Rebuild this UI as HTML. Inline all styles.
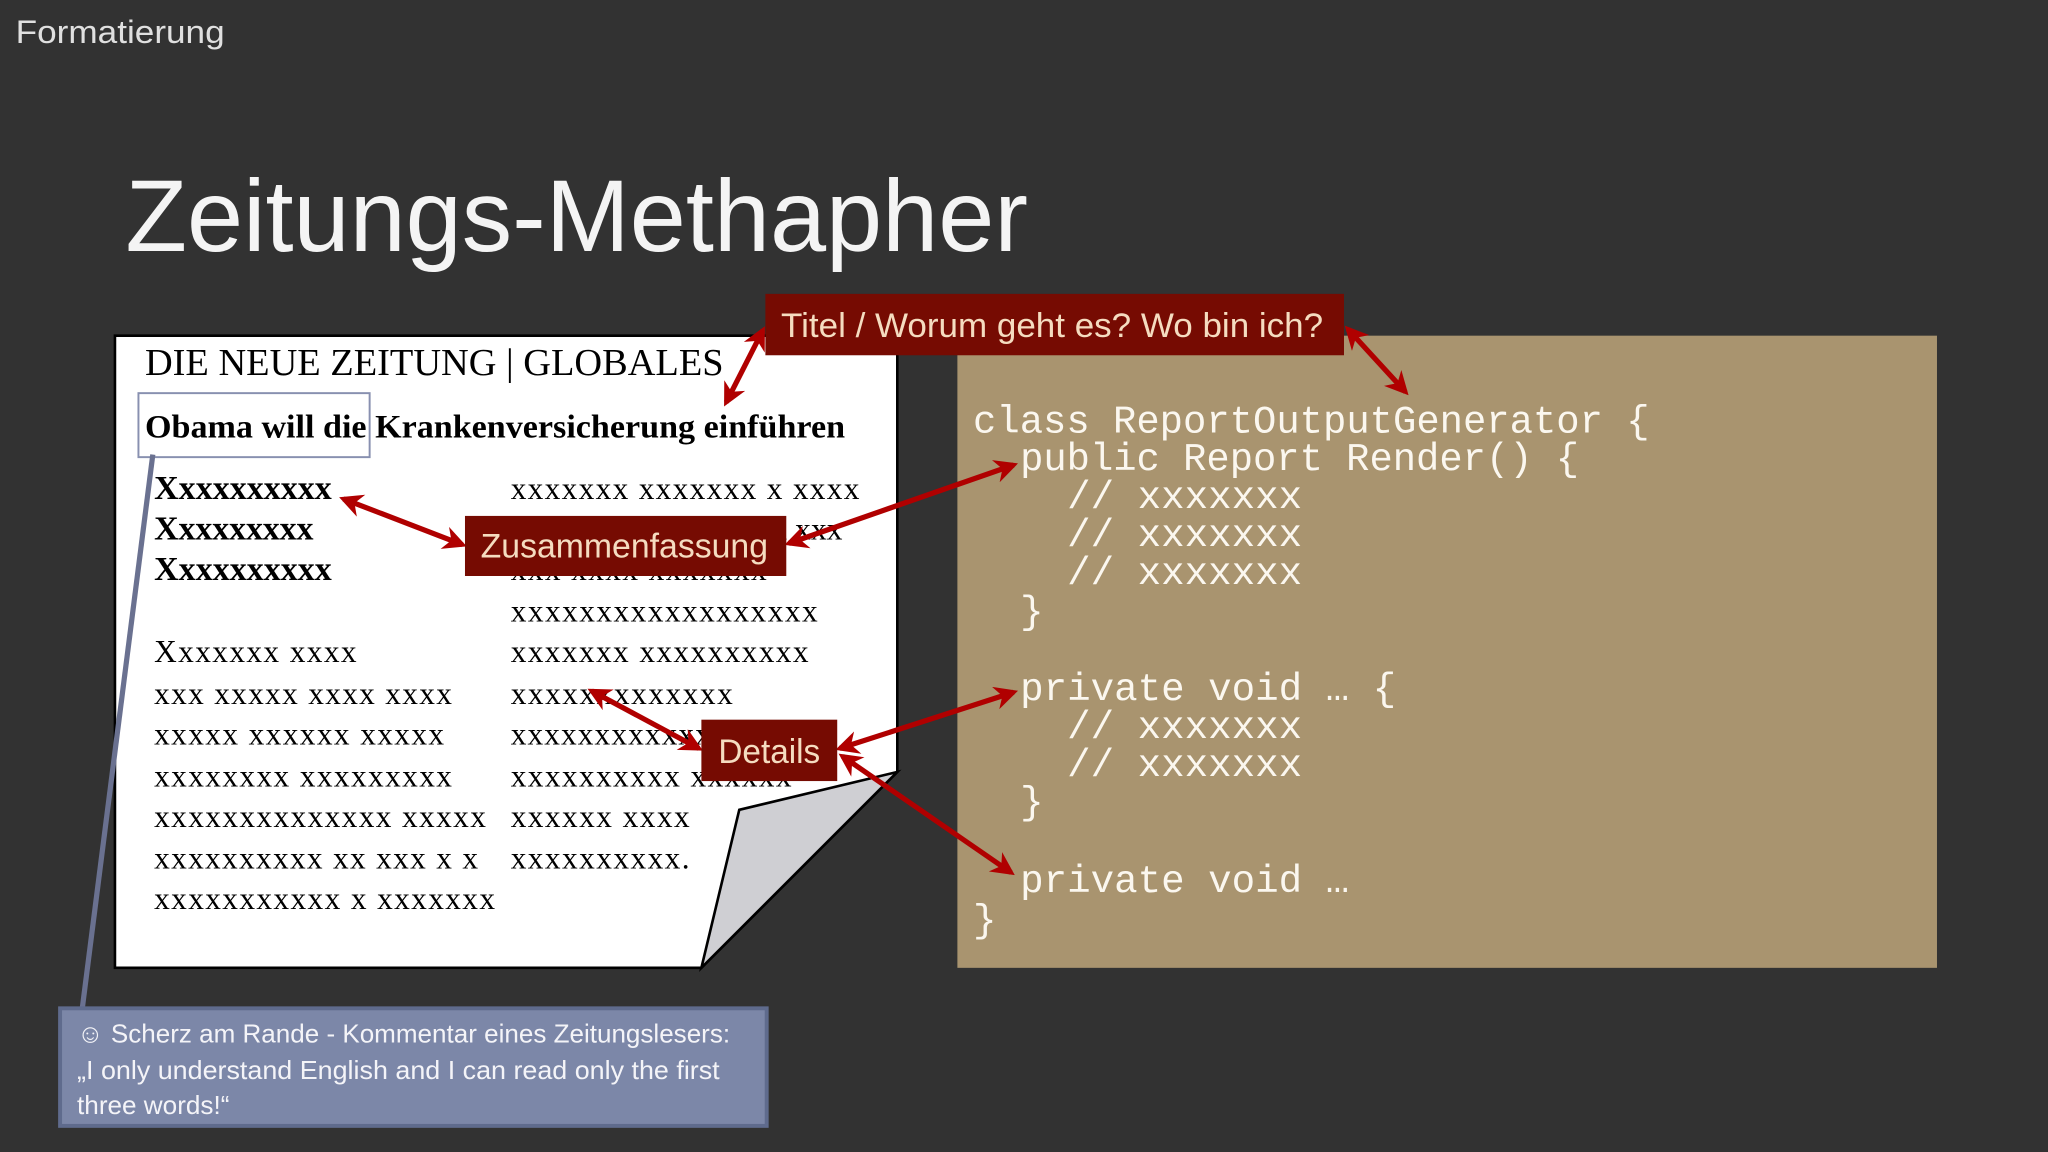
<!DOCTYPE html>
<html><head><meta charset="utf-8"><style>html,body{margin:0;padding:0;background:#323232}svg{display:block}</style></head>
<body>
<svg width="2048" height="1152" viewBox="0 0 1568 882" xmlns="http://www.w3.org/2000/svg">
<defs>
<marker id="ah" viewBox="0 0 10 10" refX="8" refY="5" markerWidth="4.5" markerHeight="4.5" orient="auto-start-reverse">
<path d="M0,0 L10,5 L0,10 L3,5 z" fill="#b00000"/>
</marker>
</defs>
<rect width="1568" height="882" fill="#323232"/>
<text x="12" y="33" font-family="Liberation Sans, sans-serif" font-size="25" fill="#e0e0e0" textLength="160" lengthAdjust="spacingAndGlyphs">Formatierung</text>
<text x="96" y="192" font-family="Liberation Sans, sans-serif" font-size="78" fill="#f4f4f4" textLength="691" lengthAdjust="spacingAndGlyphs">Zeitungs-Methapher</text>

<polygon points="88,257 687,257 687,591 537,741 88,741" fill="#fff" stroke="#000" stroke-width="2"/>
<polygon points="566,620 687,591 537,741" fill="#cfcfd3" stroke="#000" stroke-width="2"/>
<g font-family="Liberation Serif, serif" fill="#000">
<text x="111" y="287" font-size="29" textLength="443" lengthAdjust="spacingAndGlyphs">DIE NEUE ZEITUNG | GLOBALES</text>
<text x="111" y="335" font-size="25" font-weight="bold" textLength="536" lengthAdjust="spacingAndGlyphs">Obama will die Krankenversicherung einführen</text>
<g font-size="26" font-weight="bold" lengthAdjust="spacingAndGlyphs">
<text x="118" y="382" textLength="136">Xxxxxxxxxx</text>
<text x="118" y="413" textLength="122">Xxxxxxxxx</text>
<text x="118" y="444" textLength="136">Xxxxxxxxxx</text>
</g>
<g font-size="24" lengthAdjust="spacingAndGlyphs">
<text x="118" y="507" textLength="155">Xxxxxxx xxxx</text>
<text x="118" y="539" textLength="228">xxx xxxxx xxxx xxxx</text>
<text x="118" y="570" textLength="222">xxxxx xxxxxx xxxxx</text>
<text x="118" y="602" textLength="228">xxxxxxxx xxxxxxxxx</text>
<text x="118" y="633" textLength="254">xxxxxxxxxxxxxx xxxxx</text>
<text x="118" y="665" textLength="248">xxxxxxxxxx xx xxx x x</text>
<text x="118" y="696" textLength="261">xxxxxxxxxxx x xxxxxxx</text>
<text x="391" y="382" textLength="267">xxxxxxx xxxxxxx x xxxx</text>
<text x="391" y="413" textLength="254">xxxxxxx xxxxxxxxxx xxx</text>
<text x="391" y="444" textLength="196">xxx xxxx xxxxxxx</text>
<text x="391" y="476" textLength="235">xxxxxxxxxxxxxxxxxx</text>
<text x="391" y="507" textLength="228">xxxxxxx xxxxxxxxxx</text>
<text x="391" y="539" textLength="170">xxxxxxxxxxxxx</text>
<text x="391" y="570" textLength="250">xxxxxxxxxxxx xxxxxxx</text>
<text x="391" y="602" textLength="215">xxxxxxxxxx xxxxxx</text>
<text x="391" y="633" textLength="137">xxxxxx xxxx</text>
<text x="391" y="665" textLength="137">xxxxxxxxxx.</text>
</g>
</g>
<rect x="106" y="301" width="177" height="49" fill="none" stroke="#8890b0" stroke-width="1.5"/>

<rect x="733" y="257" width="750" height="484" fill="#a9946f"/>
<g font-family="Liberation Mono, DejaVu Sans Mono, monospace" font-size="30" fill="#fbf7ef">
<text x="745" y="331" textLength="518" lengthAdjust="spacingAndGlyphs">class ReportOutputGenerator {</text>
<text x="781" y="360" textLength="428" lengthAdjust="spacingAndGlyphs">public Report Render() {</text>
<text x="817" y="389">// xxxxxxx</text>
<text x="817" y="418">// xxxxxxx</text>
<text x="817" y="447">// xxxxxxx</text>
<text x="781" y="477">}</text>
<text x="781" y="536">private void … {</text>
<text x="817" y="565">// xxxxxxx</text>
<text x="817" y="594">// xxxxxxx</text>
<text x="781" y="623">}</text>
<text x="781" y="683">private void …</text>
<text x="745" y="713">}</text>
</g>

<g stroke="#b00000" stroke-width="4" fill="none" marker-start="url(#ah)" marker-end="url(#ah)">
<line x1="584" y1="253" x2="556" y2="308"/>
<line x1="1032" y1="252" x2="1076" y2="300"/>
<line x1="263" y1="382" x2="354" y2="417"/>
<line x1="604" y1="416" x2="776" y2="356"/>
<line x1="453" y1="529" x2="535" y2="573"/>
<line x1="643" y1="573" x2="776" y2="530"/>
<line x1="645" y1="579" x2="774" y2="668"/>
</g>

<g font-family="Liberation Sans, sans-serif" font-size="26" fill="#f5dcc0">
<rect x="586" y="225" width="443" height="47" fill="#760b02"/>
<text x="598" y="258" textLength="415" lengthAdjust="spacingAndGlyphs">Titel / Worum geht es? Wo bin ich?</text>
<rect x="356" y="395" width="246" height="46" fill="#760b02"/>
<text x="368" y="427" textLength="220" lengthAdjust="spacingAndGlyphs">Zusammenfassung</text>
<rect x="537" y="551" width="104" height="47" fill="#760b02"/>
<text x="550" y="584" textLength="78" lengthAdjust="spacingAndGlyphs">Details</text>
</g>

<line x1="117" y1="348" x2="63" y2="772" stroke="#6a7190" stroke-width="4"/>
<rect x="46" y="772" width="541" height="90" fill="#7c87a8" stroke="#5f6b8d" stroke-width="3"/>
<g font-family="Liberation Sans, DejaVu Sans, sans-serif" font-size="20" fill="#f4f4f8">
<text x="59" y="798" textLength="500" lengthAdjust="spacingAndGlyphs">☺ Scherz am Rande - Kommentar eines Zeitungslesers:</text>
<text x="59" y="826" textLength="492" lengthAdjust="spacingAndGlyphs">„I only understand English and I can read only the first</text>
<text x="59" y="853">three words!“</text>
</g>
</svg>
</body></html>
